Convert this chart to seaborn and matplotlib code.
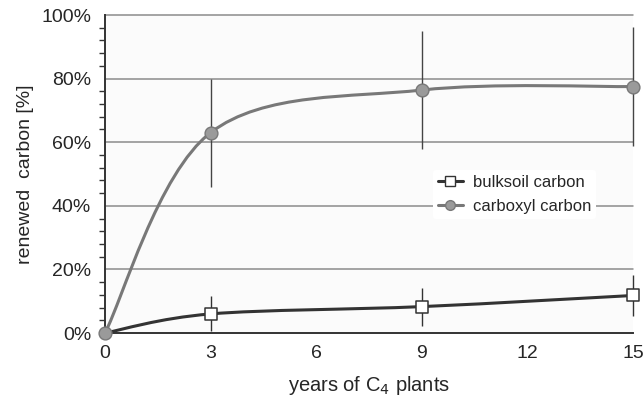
import numpy as np
import matplotlib
matplotlib.use("Agg")
import matplotlib.pyplot as plt
from matplotlib.path import Path
from matplotlib.patches import PathPatch
from matplotlib.lines import Line2D
from matplotlib.ticker import MultipleLocator, FuncFormatter
import seaborn as sns

# data
years = [0, 3, 9, 15]
bulk_soil = [0.0, 6.0, 8.3, 11.8]
bulk_soil_err = [0.0, 5.5, 6.0, 6.3]
carboxyl = [0.0, 63.0, 76.4, 77.5]
carboxyl_err = [0.0, 17.0, 18.5, 18.7]
x_ticks = [0, 3, 6, 9, 12, 15]
y_ticks = [0, 20, 40, 60, 80, 100]

bulk_color = "#333333"
carb_line = "#787878"
carb_face = "#9a9a9a"

sns.set_style("white")
plt.rcParams["font.family"] = ["Liberation Sans", "DejaVu Sans"]


def smooth_path(xs, ys):
    # excel-style smoothed line: catmull-rom segments as cubic beziers
    pts = np.column_stack([xs, ys]).astype(float)
    n = len(pts)
    verts = [pts[0]]
    codes = [Path.MOVETO]
    for i in range(n - 1):
        p0 = pts[i - 1] if i > 0 else pts[i]
        p1 = pts[i]
        p2 = pts[i + 1]
        p3 = pts[i + 2] if i + 2 < n else pts[i + 1]
        verts += [p1 + (p2 - p0) / 6, p2 - (p3 - p1) / 6, p2]
        codes += [Path.CURVE4] * 3
    return Path(verts, codes)


fig = plt.figure(figsize=(6.44, 4.0), dpi=100)
ax = fig.add_axes([0.163, 0.1675, 0.82, 0.795])
ax.set_facecolor("#fbfbfb")

ax.set_xlim(0, 15)
ax.set_ylim(0, 100)

# error bars
ax.errorbar(years[1:], carboxyl[1:], yerr=carboxyl_err[1:], fmt="none",
            ecolor="#444444", elinewidth=1, capsize=0, zorder=3, clip_on=False)
ax.errorbar(years[1:], bulk_soil[1:], yerr=bulk_soil_err[1:], fmt="none",
            ecolor="#333333", elinewidth=1, capsize=0, zorder=3, clip_on=False)

# smoothed lines
ax.add_patch(PathPatch(smooth_path(years, carboxyl), facecolor="none",
                       edgecolor=carb_line, lw=2.2, zorder=4, clip_on=False))
ax.add_patch(PathPatch(smooth_path(years, bulk_soil), facecolor="none",
                       edgecolor=bulk_color, lw=2.2, zorder=4, clip_on=False))

# markers
sns.scatterplot(x=years[1:], y=bulk_soil[1:], marker="s", s=70, color="white",
                edgecolor=bulk_color, linewidth=1.1, ax=ax, zorder=5, clip_on=False)
sns.scatterplot(x=years, y=carboxyl, marker="o", s=85, color=carb_face,
                edgecolor=carb_line, linewidth=1.0, ax=ax, zorder=6, clip_on=False)

# grid and axes
for y in y_ticks[1:]:
    ax.axhline(y, color="#8c8c8c", lw=1.1, zorder=1, clip_on=False)
for s in ["top", "right"]:
    ax.spines[s].set_visible(False)
for s in ["left", "bottom"]:
    ax.spines[s].set_color("#333333")
    ax.spines[s].set_linewidth(1.4)

ax.set_xticks(x_ticks)
ax.set_yticks(y_ticks)
ax.yaxis.set_minor_locator(MultipleLocator(4))
ax.yaxis.set_major_formatter(FuncFormatter(lambda v, p: f"{v:.0f}%"))
ax.tick_params(axis="x", which="major", direction="inout", length=11, width=1.2,
               color="#333333", labelsize=14, pad=3)
ax.tick_params(axis="y", which="major", direction="out", length=5, width=1.2,
               color="#333333", labelsize=14, pad=5)
ax.tick_params(axis="y", which="minor", direction="out", length=4, width=1.0,
               color="#333333", left=True)

ax.set_xlabel("years of C$_4$ plants", fontsize=14.5, labelpad=9)
ax.set_ylabel("renewed  carbon [%]", fontsize=14, labelpad=5)

handles = [
    Line2D([], [], color=bulk_color, lw=2.2, marker="s", markersize=7,
           markerfacecolor="white", markeredgecolor=bulk_color),
    Line2D([], [], color=carb_line, lw=2.2, marker="o", markersize=7,
           markerfacecolor=carb_face, markeredgecolor=carb_line),
]
leg = ax.legend(handles, ["bulksoil carbon", "carboxyl carbon"],
                loc="center left", bbox_to_anchor=(0.605, 0.435), fontsize=12,
                frameon=True, facecolor="white", edgecolor="none", framealpha=1,
                handlelength=1.5, handletextpad=0.6, labelspacing=0.55,
                borderpad=0.3)
leg.set_zorder(7)

fig.savefig("out.png", dpi=100)
